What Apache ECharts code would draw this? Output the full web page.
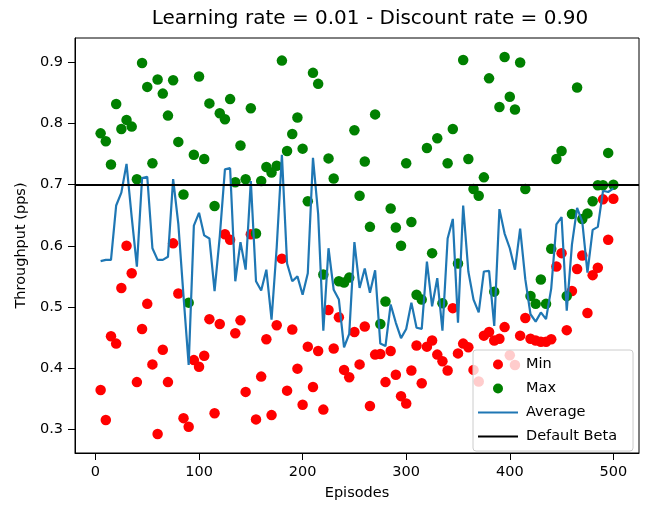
<!DOCTYPE html>
<html>
<head>
<meta charset="utf-8">
<script src="https://cdn.jsdelivr.net/npm/echarts@6/dist/echarts.min.js"></script>
<style>
html,body{margin:0;padding:0;background:#fff;}
#chart{width:646px;height:506px;}
</style>
</head>
<body>
<div id="chart"></div>
<script>
const titleText = 'Learning rate = 0.01 - Discount rate = 0.90';
const xAxisName = 'Episodes';
const yAxisName = 'Throughput (pps)';
const xTicks = [0, 100, 200, 300, 400, 500];
const yTicks = [0.3, 0.4, 0.5, 0.6, 0.7, 0.8, 0.9];
const defaultBeta = 0.7;

const episodes = [5,10,15,20,25,30,35,40,45,50,55,60,65,70,75,80,85,90,95,100,
  105,110,115,120,125,130,135,140,145,150,155,160,165,170,175,180,185,190,195,200,
  205,210,215,220,225,230,235,240,245,250,255,260,265,270,275,280,285,290,295,300,
  305,310,315,320,325,330,335,340,345,350,355,360,365,370,375,380,385,390,395,400,
  405,410,415,420,425,430,435,440,445,450,455,460,465,470,475,480,485,490,495,500];

const minThroughput = [0.364,0.315,0.452,0.440,0.531,0.600,0.555,0.377,0.464,0.505,
  0.406,0.292,0.430,0.377,0.604,0.522,0.318,0.304,0.413,0.402,
  0.420,0.480,0.326,0.472,0.619,0.610,0.457,0.478,0.361,0.619,
  0.316,0.386,0.447,0.323,0.470,0.579,0.363,0.463,0.399,0.340,
  0.435,0.369,0.428,0.332,0.495,0.432,0.483,0.397,0.385,0.459,
  0.406,0.468,0.338,0.422,0.423,0.377,0.428,0.389,0.354,0.342,
  0.396,0.437,0.375,0.435,0.445,0.422,0.411,0.396,0.498,0.424,
  0.440,0.434,0.397,0.378,0.453,0.459,0.445,0.448,0.467,0.421,
  0.405,0.453,0.482,0.448,0.445,0.443,0.443,0.447,0.566,0.588,
  0.462,0.526,0.562,0.584,0.490,0.552,0.564,0.676,0.610,0.677];

const maxThroughput = [0.784,0.771,0.733,0.832,0.791,0.806,0.795,0.709,0.899,0.860,
  0.735,0.872,0.849,0.813,0.871,0.770,0.684,0.507,0.749,0.877,
  0.742,0.833,0.665,0.817,0.807,0.840,0.704,0.764,0.709,0.825,
  0.620,0.706,0.729,0.720,0.731,0.903,0.755,0.783,0.810,0.759,
  0.673,0.883,0.865,0.553,0.743,0.710,0.542,0.540,0.548,0.789,
  0.682,0.738,0.631,0.815,0.472,0.509,0.661,0.630,0.600,0.735,
  0.639,0.520,0.512,0.760,0.588,0.776,0.506,0.735,0.791,0.571,
  0.904,0.742,0.693,0.682,0.712,0.874,0.525,0.827,0.909,0.844,
  0.823,0.900,0.693,0.518,0.505,0.545,0.505,0.595,0.742,0.755,
  0.518,0.652,0.859,0.644,0.653,0.673,0.699,0.699,0.752,0.700];

const avgThroughput = [0.575,0.577,0.577,0.666,0.687,0.734,0.647,0.566,0.711,0.713,
  0.596,0.577,0.577,0.582,0.709,0.636,0.518,0.405,0.633,0.654,
  0.617,0.612,0.526,0.615,0.725,0.727,0.542,0.606,0.561,0.706,
  0.542,0.527,0.561,0.479,0.598,0.749,0.571,0.542,0.550,0.520,
  0.555,0.744,0.652,0.461,0.596,0.528,0.512,0.434,0.456,0.606,
  0.531,0.563,0.523,0.560,0.440,0.436,0.504,0.474,0.449,0.464,
  0.507,0.466,0.464,0.574,0.501,0.547,0.461,0.612,0.644,0.474,
  0.666,0.558,0.512,0.491,0.558,0.559,0.469,0.660,0.620,0.596,
  0.561,0.628,0.545,0.488,0.476,0.491,0.480,0.530,0.635,0.647,
  0.494,0.602,0.662,0.639,0.556,0.626,0.631,0.690,0.688,0.694];

const pairs = arr => episodes.map((e, i) => [e, arr[i]]);
const FONT = 'DejaVu Sans';
const LINE_ICON = 'path://M0,0 L40,0 L40,2.2 L0,2.2 Z';

const chart = echarts.init(document.getElementById('chart'), null, {renderer: 'canvas'});
chart.setOption({
  animation: false,
  backgroundColor: '#ffffff',
  textStyle: {fontFamily: FONT, color: '#000'},
  title: {
    text: titleText,
    left: 370, top: 9, padding: 0,
    textAlign: 'center',
    textStyle: {fontFamily: FONT, fontSize: 20, fontWeight: 'normal', color: '#000'}
  },
  grid: {
    left: 75, right: 7, top: 38, bottom: 46,
    show: true, borderColor: '#000', borderWidth: 1, backgroundColor: 'transparent'
  },
  legend: {
    orient: 'vertical',
    left: 473, top: 350,
    padding: [6, 16, 6, 5],
    itemWidth: 40, itemHeight: 10, itemGap: 7,
    backgroundColor: 'rgba(255,255,255,0.8)',
    borderColor: '#cccccc', borderWidth: 1, borderRadius: 3,
    textStyle: {fontFamily: FONT, fontSize: 14.5, color: '#000', lineHeight: 17, padding: [0, 0, 0, 3]},
    data: [
      {name: 'Min', icon: 'circle'},
      {name: 'Max', icon: 'circle'},
      {name: 'Average', icon: LINE_ICON},
      {name: 'Default Beta', icon: LINE_ICON}
    ]
  },
  xAxis: {
    type: 'value',
    min: -19.75, max: 524.75,
    name: xAxisName, nameLocation: 'middle', nameGap: 33,
    nameTextStyle: {fontFamily: FONT, fontSize: 14.5, color: '#000'},
    axisLine: {show: true, onZero: false, lineStyle: {color: '#000', width: 1}},
    axisTick: {show: true, length: 7, lineStyle: {color: '#000', width: 1}, customValues: xTicks},
    axisLabel: {margin: 12, fontFamily: FONT, fontSize: 14.5, color: '#000', customValues: xTicks},
    splitLine: {show: false}
  },
  yAxis: {
    type: 'value',
    min: 0.261, max: 0.940,
    name: yAxisName, nameLocation: 'middle', nameGap: 40, nameRotate: 90,
    nameTextStyle: {fontFamily: FONT, fontSize: 14.5, color: '#000'},
    axisLine: {show: true, onZero: false, lineStyle: {color: '#000', width: 1}},
    axisTick: {show: true, length: 7, lineStyle: {color: '#000', width: 1}, customValues: yTicks},
    axisLabel: {margin: 12, fontFamily: FONT, fontSize: 14.5, color: '#000', customValues: yTicks,
      formatter: v => v.toFixed(1)},
    splitLine: {show: false}
  },
  series: [
    {
      name: 'Min', type: 'scatter', data: pairs(minThroughput),
      symbol: 'circle', symbolSize: 10.5, itemStyle: {color: '#ff0000', opacity: 1}, z: 2
    },
    {
      name: 'Max', type: 'scatter', data: pairs(maxThroughput),
      symbol: 'circle', symbolSize: 10.5, itemStyle: {color: '#008000', opacity: 1}, z: 2
    },
    {
      name: 'Average', type: 'line', data: pairs(avgThroughput),
      symbol: 'none', showSymbol: false,
      lineStyle: {color: '#1f77b4', width: 2.2}, itemStyle: {color: '#1f77b4'}, z: 3
    },
    {
      name: 'Default Beta', type: 'line', data: [],
      symbol: 'none', showSymbol: false,
      lineStyle: {color: '#000', width: 2.2}, itemStyle: {color: '#000'}, z: 4,
      markLine: {
        silent: true, symbol: ['none', 'none'], label: {show: false},
        lineStyle: {color: '#000', width: 2.2, type: 'solid'},
        emphasis: {disabled: true},
        data: [{yAxis: defaultBeta}]
      }
    }
  ]
});
</script>
</body>
</html>
